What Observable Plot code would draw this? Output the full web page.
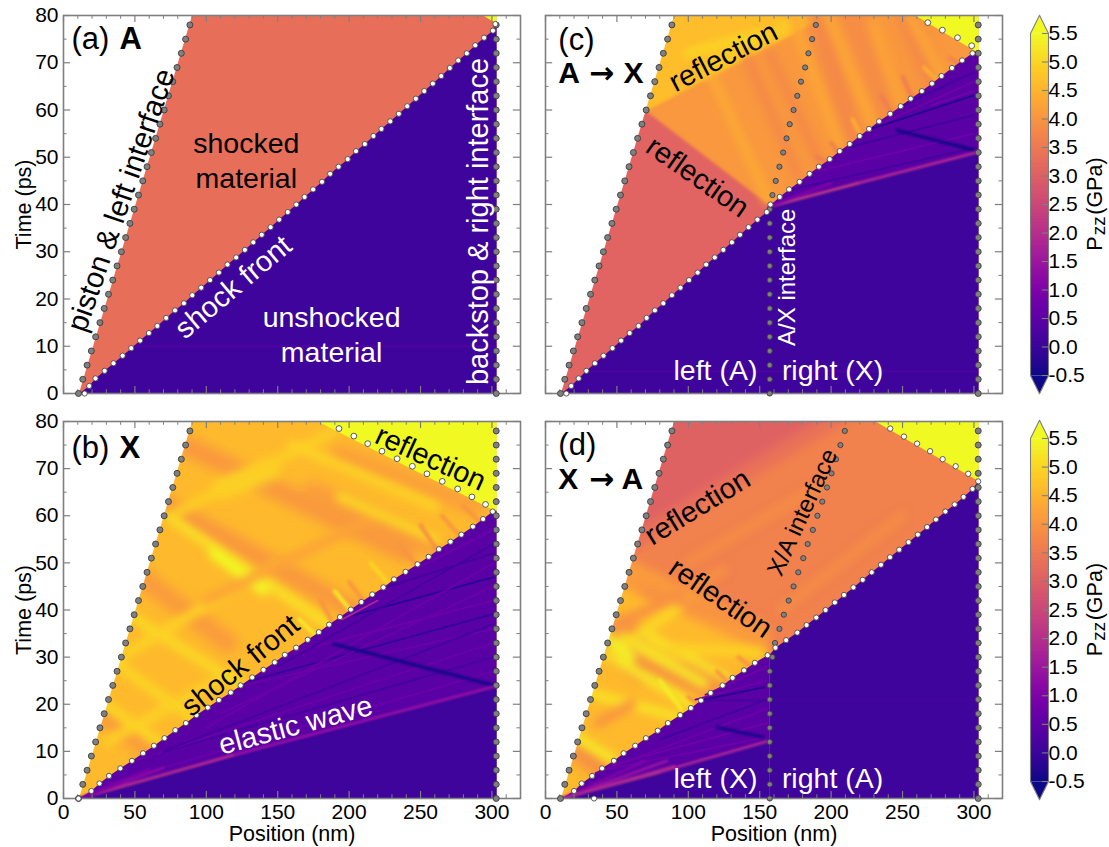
<!DOCTYPE html>
<html>
<head>
<meta charset="utf-8">
<script src="https://cdn.jsdelivr.net/npm/d3@7"></script>
<script src="https://cdn.jsdelivr.net/npm/@observablehq/plot@0.6"></script>
<style>
html,body{margin:0;padding:0;background:#fff;}
#fig{position:relative;width:1109px;height:847px;overflow:hidden;font-family:"Liberation Sans",Arial,sans-serif;}
#fig svg{position:absolute;background:transparent;overflow:visible;}
#fig svg g[aria-label$="tick label"] text{font-size:21px;}
#fig svg g[aria-label$="-axis label"] text{font-size:21.5px;}
</style>
</head>
<body>
<div id="fig"></div>
<script>
// ---------- axis ticks ----------
const majorX=[0,50,100,150,200,250,300];
const minorX=[10,20,30,40,60,70,80,90,110,120,130,140,160,170,180,190,210,220,230,240,260,270,280,290,310];
const majorT=[0,10,20,30,40,50,60,70,80];
const minorT=[5,15,25,35,45,55,65,75];
const cbTicks=[-0.5,0,0.5,1,1.5,2,2.5,3,3.5,4,4.5,5,5.5];

// ---------- tracer dots (x nm, t ps) ----------
const dotT=[0,3,6,9,12,15,18,21,24,27,30,33,36,39,42,45,48,51,54,57,60,63,66,69,72,75,78];
const pistonX=[10.5,13.5,16.5,19.5,22.5,25.5,28.5,31.5,34.5,37.5,40.5,43.5,46.5,49.5,52.5,55.5,58.5,61.5,64.5,67.5,70.5,73.5,76.5,79.5,82.5,85.5,88.5];
const backstopX=[303,303,303,303,303,303,303,303,303,303,303,303,303,303,303,303,303,303,303,303,303,303,303,303,303,303,303];
const shockA=[[14.8,0],[18,1.6],[22.4,3.2],[28.8,4.8],[35,6.4],[41.4,8],[47.4,9.6],[53.6,11.2],[59.8,12.8],[65.7,14.3],[71.9,16],[78.1,17.6],[84.3,19.1],[90.2,20.8],[96.4,22.4],[102.6,24],[108.8,25.6],[114.8,27.3],[120.9,28.8],[127,30.4],[132.9,32],[138.8,33.6],[145,35.2],[151,36.8],[157,38.4],[163,40],[168.8,41.6],[174.8,43.2],[181,44.8],[186.7,46.5],[192.6,48],[199,49.6],[204.8,51.3],[211,52.8],[217,54.5],[222.6,56],[228.8,57.6],[234.8,59.2],[240.7,60.8],[246.7,62.4],[252.6,64],[258.6,65.6],[264.5,67.2],[270.5,68.9],[276.4,70.5],[282.4,72],[288.3,73.7],[294.5,75.3],[300.7,76.8],[302.4,78.2]];
const shockB=[[10.5,0],[19.5,1.6],[25.2,3.2],[31.9,4.8],[39.8,6.4],[47.9,8],[55.7,9.6],[63.3,11.2],[70.7,12.8],[78.3,14.5],[85.7,16],[93.1,17.7],[101,19.3],[108.8,20.9],[117.1,22.5],[124,24],[132.1,25.7],[140,27.3],[147.9,28.9],[155,30.5],[162.9,32],[171,33.7],[178.8,35.3],[186,36.9],[193.6,38.5],[201.2,40.1],[208.6,41.7],[216.2,43.3],[224,44.8],[231.4,46.5],[239.5,48.1],[247.9,49.7],[255.7,51.3],[262.9,52.9],[271,54.5],[278.6,56],[286.7,57.7],[293.8,59.3],[300.5,60.9]];
const reflectB=[[295.5,62.4],[286,64],[276,65.7],[265.2,67.3],[254.5,68.9],[244.3,70.5],[233.6,72.1],[223,73.7],[213,75.3],[203.3,76.9],[192.9,78.5]];
const shockC=[[14.6,0],[18,1.6],[23.2,3.2],[28.6,4.8],[34.6,6.4],[40.6,8],[46.9,9.6],[52.9,11.2],[58.9,12.8],[65.1,14.3],[70.8,16],[76.6,17.6],[82.5,19.1],[88.5,20.8],[94.5,22.4],[100.5,24],[106.5,25.6],[112.5,27.3],[118.5,28.8],[124.5,30.4],[130.5,32],[136.2,33.6],[142.2,35.2],[148.4,36.8],[154.9,38.4],[157.5,40],[164,41.6],[170.6,43.2],[177.9,44.8],[184.9,46.5],[191.4,48],[199,49.6],[206,51.3],[213,52.8],[220,54.5],[226.6,56],[233.6,57.6],[241.4,59.2],[248.7,60.8],[255.7,62.4],[263.5,64],[270.6,65.6],[277.3,67.2],[284.6,68.9],[291.7,70.5],[299,72]];
const reflectC=[[298.4,73.6],[288.5,75.3],[277.9,76.9],[267.7,78.5]];
const interfaceC=[[157,0],[157,3],[157,6],[157,9],[157,12],[157,15],[157,18],[157,21],[157,24],[157,27],[157,30],[157,33],[157,36],[157,39],[158.9,42],[161.2,45],[163.8,48],[166.4,51],[168.8,54],[171,57],[173.7,60],[176.3,63],[178.9,66],[181.8,69],[184.1,72],[186.7,75],[189.3,78]];
const shockD=[[34,0],[20,1.6],[25.3,3.2],[32.6,4.8],[39.6,6.4],[47.9,8],[54.7,9.6],[62.8,11.2],[70.3,12.8],[78.6,14.4],[85.7,16],[94.3,17.7],[101.8,19.2],[108.9,20.8],[115.6,22.4],[124,24],[131,25.6],[139,27.2],[146.6,28.8],[155.5,30.4],[161,32],[168.5,33.6],[176.3,35.2],[182.8,36.8],[189.6,38.4],[196.1,40],[202.6,41.6],[209,43.2],[215.6,44.8],[222.1,46.4],[228.4,48],[234.9,49.6],[241.2,51.2],[247.7,52.8],[254.2,54.4],[260.7,56],[267.2,57.6],[273.4,59.2],[280,60.9],[286.5,62.4],[292.7,64],[299,65.7],[303,67.3]];
const reflectD=[[296,68.9],[287.2,70.5],[278.1,72],[269.3,73.7],[260.2,75.3],[251,76.8],[241.4,78.5]];
const interfaceD=[[157,0],[157,3],[157,6],[157,9],[157,12],[157,15],[157,18],[157,21],[157,24],[157,27],[158.9,30],[160.7,33],[163.8,36],[166.9,39],[170.3,42],[173.7,45],[177,48],[180.5,51],[183.6,54],[187.2,57],[190.4,60],[193.8,63],[197.1,66],[200.3,69],[203.4,72],[206.5,75],[209.6,78]];

// ---------- pressure regions: [value GPa, polygon of [x nm, t ps]] ----------
const wholeFrame=[[-5,-5],[325,-5],[325,85],[-5,85]];
const wedge=[[0,0],[10.8,0],[90,80],[0,80]];
const beyond=[[303.4,0],[320,0],[320,80],[303.4,80]];

const softA=[[3.3,wholeFrame]];
const softB=[[4.6,wholeFrame]];
const softC=[[3.1,wholeFrame],
  [4.05,[[157,39.8],[50,64.5],[50,85],[325,85],[325,50]]],
  [4.65,[[50,56.6],[70.3,59.8],[229.6,85],[50,85]]]];
const softD=[[3.05,wholeFrame],
  [3.35,[[40,52.5],[232,88],[325,88],[325,-5],[40,-5]]],
  [3.65,[[40,48.5],[232,84],[325,84],[325,-5],[40,-5]]],
  [4.1,[[0,60],[157,36],[157,-5],[0,-5]]],
  [4.6,[[0,52.2],[157,30.5],[157,-5],[0,-5]]]];

const lowerA=[[0.05,[[11,0],...shockA.slice(1,49),[303.4,77.5],[303.4,0]]]];
const lowerB=[[0.45,[[11,0],...shockB.slice(1),[303.4,61.5],[303.4,0]]],
  [0.05,[[11,0],[303.4,23.8],[303.4,0]]]];
const lowerC=[[0.05,[[11,0],...shockC.slice(1,25),[156.5,39.6],[303.4,51.1],[303.4,0]]],
  [0.45,[[156.5,39.6],...shockC.slice(26),[303.4,72.8],[303.4,51.1]]]];
const lowerD=[[0.05,[[157,0],[157,30.5],...shockD.slice(20),[303.4,67.3],[303.4,0]]],
  [0.45,[[11,0],...shockD.slice(1,20),[157,30.5],[157,12.3]]],
  [0.05,[[11,0],[157,12.3],[157,0]]]];

const capA=[[5.5,[[294,80],[303.4,78.2],[303.4,80]]]];
const capB=[[5.5,[[178,80],[301,61.2],[303.4,61],[303.4,80]]]];
const capC=[[5.5,[[259,80],[303.4,72],[303.4,80]]]];
const capD=[[5.5,[[231,80],[303.4,67.3],[303.4,80]]]];

// ---------- bands and streaks: [x1,t1,x2,t2,value] ----------
const wideB=[[85,75,240,52,4.05],[60,64,215,38,4.05],[50,48,115,33,4.1],[25,18,70,8,4.15],[174.8,65.3,265,52.6,4.15],[193.8,73,289,62,4.2],[112,66,145,69.6,5.0]];
const narrowB=[[72,60,190,36,5.15],[105,52,140,44.2,5.5],[35,41,140,21,5.05],[20,22,85,8,5.05],[30,30,100,15,5.0],[40,30,150,50,4.95],[75,60,190,78,4.9],[30,12,120,27,4.95],[100,42,220,60,4.25],[193.8,64,262.9,54.7,5.0],[160,75,260,62,4.95]];
const fineB=[[180,42,190,36.5,4.0],[200,46,212,41,4.0],[215,50,230,44.8,5.0],[235,54,248,49.2,4.0],[250,58,262,52.5,3.9],[265,60,278,55.5,4.0],[165,38,177,34.5,5.3],[190,44,202,39.5,5.3],[280,62,292,58.6,4.0]];
const wideC=[[277,62,252,80,3.8],[217,53,190,80,3.8],[242,57,214,80,3.85]];
const narrowC=[[192,49,157,72,3.8],[206,52.5,172,80,4.3],[229,57,198,80,4.3],[278,67,255,80,4.3],[156,41,117,67,4.35],[177,46,140,72,3.8],[110,68,170,78,4.9],[100,72,150,76,5.0],[250,60,230,78,4.25]];
const fineC=[[200,53,206,50.5,3.6],[215,58,222,54,4.4],[235,63,243,59,3.6],[250,67,258,61.8,3.6],[265,69,275,66,4.4],[190,50,197,49,3.6],[283,71,291,69.5,3.7]];
const wideD=[[57,36.4,62,34,3.9],[59.5,30,120.2,22.2,4.0],[44,34,66,27,4.0],[22,10,45,5,3.95],[100,28,130,24,4.0]];
const narrowD=[[54.8,34.2,110.9,24.4,5.25],[50.2,29.3,101.6,20.1,5.25],[31.5,22.3,92.2,17.3,5.15],[73.5,34.3,127.3,25.7,5.15],[22.2,13,47.8,8.1,5.25],[48,36.4,124.9,48.4,3.95],[42,30,100,42,5.05],[70,44,150,37,3.95],[37,16,60,20,4.0],[100,50,190,66,3.85],[165,40,250,60,3.85],[35,36,60,30,5.4],[90,32,150,31,4.95]];
const fineD=[[120,27,130,24,4.0],[135,30,146,27.5,4.0],[100,21.5,110,19.5,4.0],[80,25,95,19,5.3]];

const streakA=[[50,10,303,10,0.3]];
const streakB=[[203.3,38.9,301.3,47,-0.2],[131,25,301.3,39.2,-0.1],[160,31,301,42,0.75],[60,9,301,30,0.15],[50,8,301,33,0.7],[100,15,301,50,0.7],[150,28,301,54,0.15],[126,24,301,36,0.7],[195,38,220,42,1.8],[30,3,301,27,0.7],[228,45,301,52,0.1],[248,49,301,57,0.75],[70,10,301,37,0.15],[110,18,301,45,0.7]];
const darkB=[[189.3,32.8,301.3,24,-0.45]];
const streakC=[[229,56.1,299.9,63.1,-0.3],[213.6,52.2,299.9,58.9,0.05],[190,47,300,55,0.75],[234,57,300,66,0.8],[170,43,300,52,0.15],[30,4.7,303,4.7,0.3],[250,61,300,68,0.1],[270,61,300,64,0.85]];
const darkC=[[246.3,55.7,299.9,51.5,-0.45]];
const streakD=[[108.5,20.8,152.9,23.6,-0.25],[105,21,155,25,0.75],[45,7,155,16,0.8],[80,12.5,155,21,0.1],[40,6,155,13,0.75],[110,20.8,303,20.8,0.2],[112,22,155,28,0.8],[35,5.4,155,19,0.75]];
const darkD=[[120.2,15.1,152.9,13,-0.4]];
const elasticB=[[11,0,120,9.3,1.9],[120,9.3,301.3,23.7,1.35],[12,0,70,6.5,1.2],[12,0,60,6.2,0.95]];
const elasticC=[[156.4,39.5,220,44.6,2.1],[220,44.6,303,51.1,1.75],[157,39.6,200,44.5,1.0]];
const elasticD=[[11,0,80,5.6,2.3],[80,5.6,155,12.1,1.7],[12,0,85,8,1.4],[12,0,70,8,1.05],[12,0,90,6.8,1.8]];

// ---------- helpers ----------
const toRows=list=>list.flatMap(([v,pts],id)=>pts.map(p=>({x:p[0],y:p[1],v,id})));
const colorScale={type:"linear",scheme:"plasma",domain:[-0.5,5.5],clamp:true};
const GRAY="#7f7f7f";
const blurred=(px)=>(index,scales,values,dims,ctx,next)=>{const g=next(index,scales,values,dims,ctx);g.style.filter=`blur(${px}px)`;return g;};
const regions=(list,blur)=>Plot.line(toRows(list),{x:"x",y:"y",z:"id",fill:"v",stroke:"none",clip:true,render:blur?blurred(blur):undefined});
const bands=(list,w,blur)=>Plot.link(list,{x1:d=>d[0],y1:d=>d[1],x2:d=>d[2],y2:d=>d[3],stroke:d=>d[4],strokeWidth:w,strokeLinecap:"round",clip:true,render:blur?blurred(blur):undefined});
const mask=pts=>Plot.line(pts,{x:d=>d[0],y:d=>d[1],fill:"white",stroke:"none"});
const dots=(pts,fill,stroke,r)=>Plot.dot(pts,{x:d=>d[0],y:d=>d[1],r,fill,stroke,strokeWidth:0.9});
const zip=(xs,ts)=>xs.map((x,i)=>[x,ts[i]]);
const label=(text,x,y,o={})=>Plot.text([text],{x:()=>x,y:()=>y,text:d=>d,fontSize:o.size||28.5,rotate:o.rot||0,fill:o.fill||"black",fontWeight:o.bold?"bold":"normal",textAnchor:o.anchor||"middle",lineAnchor:"middle",fontFamily:o.font||'"Liberation Sans",Arial,sans-serif'});

const fig=document.getElementById("fig");
function place(svg,left,top){svg.style.left=left+"px";svg.style.top=top+"px";fig.appendChild(svg);}

function panel(cfg){
  const tickLines=[
    Plot.ruleX(majorX,{y1:0,y2:1.5,stroke:GRAY,strokeWidth:1.2}),
    Plot.ruleX(majorX,{y1:78.5,y2:80,stroke:GRAY,strokeWidth:1.2}),
    Plot.ruleX(minorX,{y1:0,y2:0.8,stroke:GRAY,strokeWidth:1}),
    Plot.ruleX(minorX,{y1:79.2,y2:80,stroke:GRAY,strokeWidth:1}),
    Plot.ruleY(majorT,{x1:0,x2:5,stroke:GRAY,strokeWidth:1.2}),
    Plot.ruleY(majorT,{x1:315,x2:320,stroke:GRAY,strokeWidth:1.2}),
    Plot.ruleY(minorT,{x1:0,x2:2.5,stroke:GRAY,strokeWidth:1}),
    Plot.ruleY(minorT,{x1:317.5,x2:320,stroke:GRAY,strokeWidth:1})
  ];
  const axes=[];
  if(cfg.axisLeft) axes.push(Plot.axisY(majorT,{tickSize:0,tickPadding:5,label:"Time (ps)",labelAnchor:"center",labelOffset:cfg.labelLeft,labelArrow:"none"}));
  if(cfg.axisBottom) axes.push(Plot.axisX(majorX,{tickSize:0,tickPadding:6,label:"Position (nm)",labelAnchor:"center",labelOffset:cfg.labelBottom,labelArrow:"none"}));
  const svg=Plot.plot({
    width:cfg.width,height:cfg.height,marginLeft:cfg.ml,marginRight:cfg.mr,marginTop:cfg.mt,marginBottom:cfg.mb,
    style:{fontFamily:'"Liberation Sans",Arial,sans-serif',background:"transparent",overflow:"visible"},
    x:{domain:[0,320],axis:cfg.axisBottom?undefined:null},
    y:{domain:[0,80],axis:cfg.axisLeft?undefined:null},
    color:colorScale,
    marks:[
      regions(cfg.soft,cfg.softBlur||1.5),
      bands(cfg.wide,20,6),
      bands(cfg.narrow,10,4.5),
      bands(cfg.fine,4,1.6),
      regions(cfg.lower),
      bands(cfg.streak,1.8,0.7),
      bands(cfg.dark,3.2,1.2),
      bands(cfg.elastic,3,1),
      regions(cfg.cap),
      mask(wedge),mask(beyond),
      ...tickLines,
      Plot.frame({stroke:GRAY,strokeWidth:1.6}),
      ...axes,
      ...cfg.dots,
      ...cfg.labels
    ]
  });
  place(svg,cfg.left,cfg.top);
}

const GD="#808080", GS="#3c3c3c", WS="#4a4a4a";
const edge=[dots(zip(pistonX,dotT),GD,GS,3),dots(zip(backstopX,dotT),GD,GS,3)];

panel({left:0,top:0,width:530,height:410,ml:63,mr:10,mt:15,mb:17,axisLeft:true,labelLeft:48,
  soft:softA,wide:[],narrow:[],fine:[],lower:lowerA,streak:streakA,dark:[],elastic:[],cap:capA,
  dots:[...edge,dots(shockA,"white",WS,2.6)],
  labels:[
    label("(a)",5.6,75,{size:31,anchor:"start"}),
    label("A",39.2,75,{size:31,anchor:"start",bold:true}),
    label("piston & left interface",40.4,40.9,{size:29.5,rot:-71}),
    label("shocked",128,52.8),
    label("material",128,45.4),
    label("shock front",119,22.5,{size:29,rot:-40,fill:"white"}),
    label("unshocked",187.7,16.1,{fill:"white"}),
    label("material",187.7,8.7,{fill:"white"}),
    label("backstop & right interface",290.6,36.4,{size:29,rot:-90,fill:"white"})
  ]});

panel({left:0,top:410,width:530,height:437,ml:63,mr:10,mt:11,mb:49,axisLeft:true,axisBottom:true,labelLeft:48,labelBottom:42,
  soft:softB,wide:wideB,narrow:narrowB,fine:fineB,lower:lowerB,streak:streakB,dark:darkB,elastic:elasticB,cap:capB,
  dots:[...edge,dots(shockB,"white",WS,2.6),dots(reflectB,"white",WS,2.9)],
  labels:[
    label("(b)",5.6,74.3,{size:31,anchor:"start"}),
    label("X",39.2,74.3,{size:31,anchor:"start",bold:true}),
    label("reflection",257,72.2,{size:29,rot:24.5}),
    label("shock front",124,28.2,{size:29,rot:-39}),
    label("elastic wave",162.6,15.5,{size:29,rot:-15,fill:"white"})
  ]});

panel({left:530,top:0,width:480,height:410,ml:15,mr:8,mt:15,mb:17,
  soft:softC,wide:wideC,narrow:narrowC,fine:fineC,lower:lowerC,streak:streakC,dark:darkC,elastic:elasticC,cap:capC,
  dots:[...edge,dots(interfaceC,GD,GS,2.6),dots(shockC,"white",WS,2.6),dots(reflectC,"white",WS,2.9)],
  labels:[
    label("(c)",9,74.8,{size:31,anchor:"start"}),
    label("A",9,67.8,{size:30,anchor:"start",bold:true}),
    label("→",39.2,67.8,{size:30,bold:true,font:'"DejaVu Sans"'}),
    label("X",54.6,67.8,{size:30,anchor:"start",bold:true}),
    label("reflection",124.6,71.2,{size:29,rot:-27.5}),
    label("reflection",106.4,45.8,{size:29,rot:35}),
    label("A/X interface",169.2,24.6,{size:24,rot:-90,fill:"white"}),
    label("left (A)",119,4.7,{fill:"white"}),
    label("right (X)",201,4.7,{fill:"white"})
  ]});

panel({left:530,top:410,width:480,height:437,ml:15,mr:8,mt:11,mb:49,axisBottom:true,labelBottom:42,softBlur:5,
  soft:softD,wide:wideD,narrow:narrowD,fine:fineD,lower:lowerD,streak:streakD,dark:darkD,elastic:elasticD,cap:capD,
  dots:[...edge,dots(interfaceD,GD,GS,2.6),dots(shockD,"white",WS,2.6),dots(reflectD,"white",WS,2.7)],
  labels:[
    label("(d)",9,74.9,{size:31,anchor:"start"}),
    label("X",9,67.7,{size:30,anchor:"start",bold:true}),
    label("→",39.2,67.7,{size:30,bold:true,font:'"DejaVu Sans"'}),
    label("A",53.2,67.7,{size:30,anchor:"start",bold:true}),
    label("reflection",106.4,61.8,{size:29,rot:-31.5}),
    label("reflection",122.5,42.5,{size:29,rot:34.5}),
    label("X/A interface",180,60.7,{size:24,rot:-65.5}),
    label("left (X)",119,4.2,{fill:"white"}),
    label("right (A)",201,4.2,{fill:"white"})
  ]});

// ---------- colour bars ----------
function colorbar(top,height,y55,ym05){
  const outline=[[0,-0.5],[0.5,-0.82],[1,-0.5],[1,5.5],[0.5,5.82],[0,5.5],[0,-0.5]];
  const svg=Plot.plot({
    width:99,height,marginLeft:20,marginRight:61,marginTop:0,marginBottom:0,
    style:{fontFamily:'"Liberation Sans",Arial,sans-serif',background:"transparent",overflow:"visible"},
    x:{domain:[0,1],axis:null},
    y:{domain:[-0.5,5.5],range:[ym05,y55]},
    color:colorScale,
    marks:[
      Plot.raster({x1:0,x2:1,y1:-0.5,y2:5.5,width:1,height:343,fill:(x,y)=>y}),
      Plot.line(toRows([[5.5,[[0,5.5],[0.5,5.82],[1,5.5]]],[-0.5,[[0,-0.5],[0.5,-0.82],[1,-0.5]]]]),{x:"x",y:"y",z:"id",fill:"v",stroke:"none"}),
      Plot.line(outline,{x:d=>d[0],y:d=>d[1],stroke:GRAY,strokeWidth:1.1}),
      Plot.ruleY(cbTicks,{x1:0.66,x2:1,stroke:GRAY,strokeWidth:1.1}),
      Plot.axisY(cbTicks,{anchor:"right",tickSize:0,tickPadding:0,tickFormat:d=>d.toFixed(1),label:null}),
      label("P",3.6,1.69,{size:21.5,rot:-90,anchor:"start"}),
      label("zz",3.82,1.96,{size:19,rot:-90,anchor:"start"}),
      label("(GPa)",3.6,2.32,{size:21.5,rot:-90,anchor:"start"})
    ]
  });
  place(svg,1010,top);
}
colorbar(0,410,33,375);
colorbar(410,437,28,371);
</script>
</body>
</html>
